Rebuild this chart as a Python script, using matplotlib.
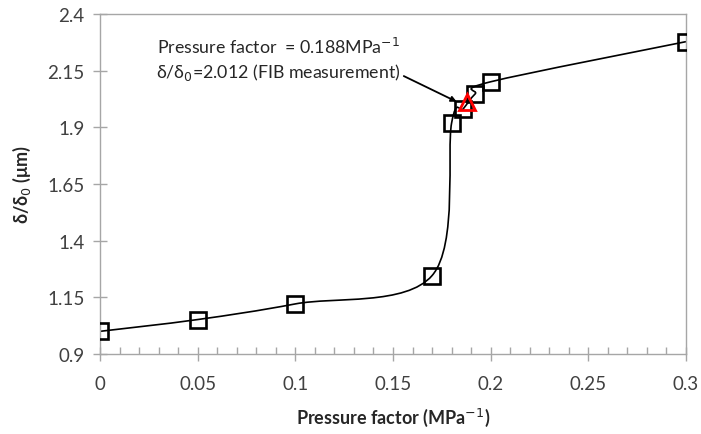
import numpy as np
import matplotlib
matplotlib.use('Agg')
import matplotlib.pyplot as plt
from matplotlib.path import Path
from matplotlib.patches import PathPatch
from matplotlib.ticker import MultipleLocator

plt.rcParams['font.family'] = ['Lato', 'DejaVu Sans']

# data
pressure = [0.0, 0.05, 0.10, 0.17, 0.18, 0.186, 0.192, 0.20, 0.30]
ratio = [1.00, 1.052, 1.121, 1.246, 1.919, 1.982, 2.047, 2.101, 2.278]
fib_x = [0.188]
fib_y = [2.012]

x_ticks = [0, 0.05, 0.1, 0.15, 0.2, 0.25, 0.3]
x_labels = ['0', '0.05', '0.1', '0.15', '0.2', '0.25', '0.3']
y_ticks = [0.9, 1.15, 1.4, 1.65, 1.9, 2.15, 2.4]
y_labels = ['0.9', '1.15', '1.4', '1.65', '1.9', '2.15', '2.4']

grey = '#A6A6A6'
txt = '#404040'

fig = plt.figure(figsize=(7.01, 4.35), dpi=100)
ax = fig.add_axes([100/701, 1-355/435, 586/701, 340/435])


# smoothed line like a spreadsheet chart: Catmull-Rom as cubic Bezier segments
def smooth_path(xs, ys):
    p = np.column_stack([xs, ys])
    n = len(p)
    verts = [p[0]]
    codes = [Path.MOVETO]
    for i in range(n - 1):
        p0 = p[i - 1] if i > 0 else p[i]
        p3 = p[i + 2] if i + 2 < n else p[i + 1]
        c1 = p[i] + (p[i + 1] - p0) / 6
        c2 = p[i + 1] - (p3 - p[i]) / 6
        verts += [c1, c2, p[i + 1]]
        codes += [Path.CURVE4] * 3
    return Path(verts, codes)


ax.add_patch(PathPatch(smooth_path(pressure, ratio), fc='none', ec='black', lw=1.2, zorder=2))
ax.plot(pressure, ratio, ls='none', marker='s', ms=11.5, mfc='none', mec='black', mew=1.9, zorder=3)
ax.plot(fib_x, fib_y, ls='none', marker='^', ms=11.5, mfc='none', mec='#FF0000', mew=2.0, zorder=4)

ax.annotate('Pressure factor  = 0.188MPa$^{-1}$\nδ/δ$_0$=2.012 (FIB measurement)',
            xy=(0.1826, 2.013), xytext=(0.0915, 2.203),
            ha='center', va='center', fontsize=12.8, color='#262626', linespacing=1.3,
            arrowprops=dict(arrowstyle='-|>', color='black', lw=1.3, mutation_scale=8,
                            shrinkA=0, shrinkB=0, relpos=(1.0, 0.15)))

ax.set_xlim(0, 0.3)
ax.set_ylim(0.9, 2.4)
ax.set_xticks(x_ticks)
ax.set_xticklabels(x_labels)
ax.set_yticks(y_ticks)
ax.set_yticklabels(y_labels)
ax.xaxis.set_minor_locator(MultipleLocator(0.01))

for s in ax.spines.values():
    s.set_color(grey)
    s.set_linewidth(1.0)

ax.tick_params(axis='both', which='major', direction='inout', length=10, width=1.0,
               color=grey, labelsize=13.5, labelcolor=txt)
ax.tick_params(axis='x', which='major', pad=10)
ax.tick_params(axis='y', which='major', pad=6)
ax.tick_params(axis='x', which='minor', direction='in', length=5, width=1.0, color=grey)

ax.set_xlabel('Pressure factor (MPa$^{-1}$)', fontsize=13, fontweight='bold', color='#262626', labelpad=10)
ax.set_ylabel('δ/δ$_0$ (μm)', fontsize=13, fontweight='bold', color='#262626', labelpad=10)

fig.savefig('out.png', dpi=100)
